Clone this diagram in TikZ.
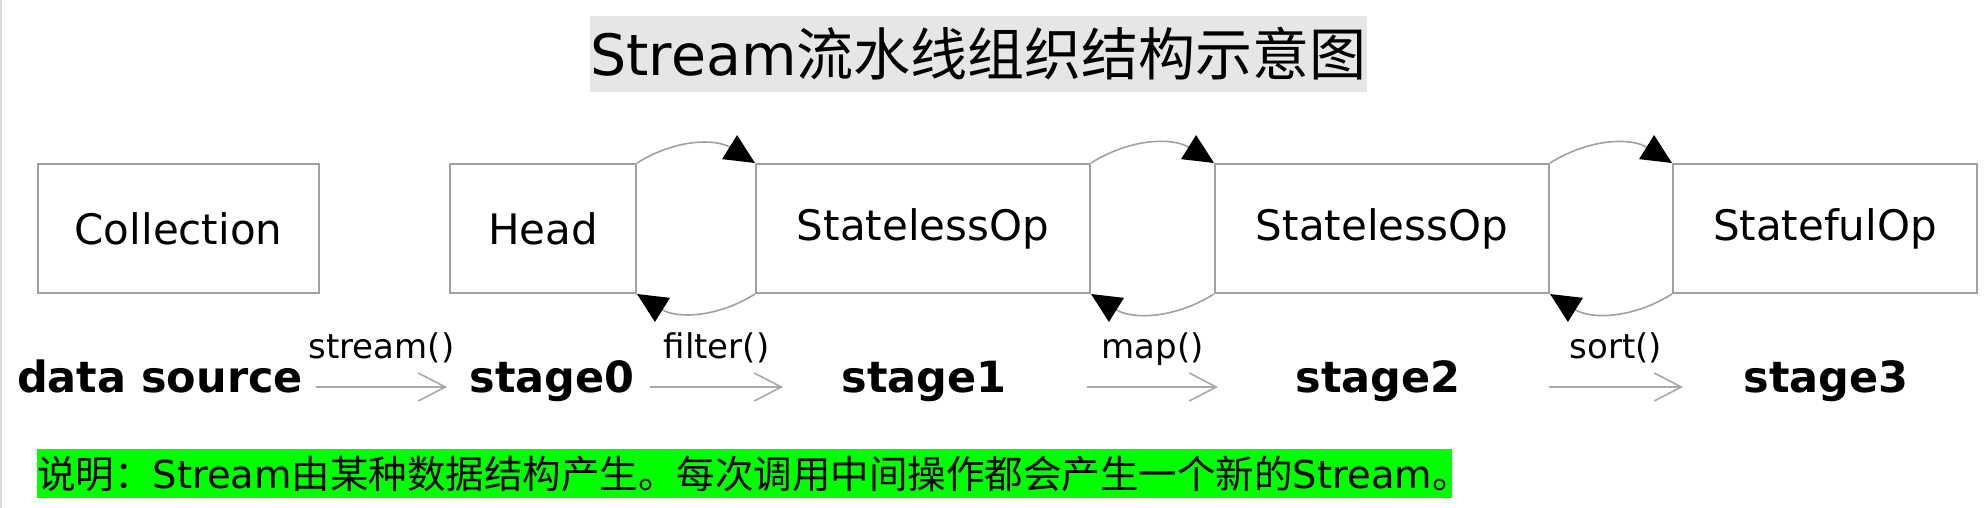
\documentclass[tikz,border=0pt]{standalone}
\usepackage{fontspec}
\setmainfont{DejaVu Sans}
\newfontfamily\cjk{Noto Sans CJK SC}
\usepackage{tikz}
\usetikzlibrary{arrows.meta}
\definecolor{Edge}{HTML}{A0A0A0}
\definecolor{Flow}{HTML}{A8A8A8}
\definecolor{Banner}{HTML}{E6E6E6}
\definecolor{Note}{HTML}{00FF00}
\definecolor{Rim}{HTML}{DADADA}

\begin{document}
\begin{tikzpicture}[x=1pt,y=-1pt,
    stagebox/.style={draw=Edge,line width=2pt,minimum height=129pt,
      inner sep=0pt,font=\fontsize{42}{50}\selectfont},
    lbl/.style={anchor=base,inner sep=0pt,
      font=\fontsize{43}{50}\selectfont\bfseries},
    call/.style={anchor=base,inner sep=0pt,font=\fontsize{34}{40}\selectfont},
    flow/.style={draw=Flow,line width=2pt,
      -{Straight Barb[length=27pt,width=28pt,line width=1.6pt]}},
    link/.style={draw=Edge,line width=1.6pt,
      -{Triangle[length=30pt,width=28pt,color=black]}}
  ]
    \useasboundingbox (0,0) rectangle (1984,508);
    \draw[Rim,line width=1.5pt] (1,0) -- (1,508);

    \node[fill=Banner,minimum width=777pt,minimum height=76pt,inner sep=0pt,
      font=\fontsize{57}{66}\selectfont] (title) at (978.5,54)
      {Stream{\cjk 流水线组织结构示意图}};

    \node[stagebox,minimum width=281pt] (coll) at (178.5,228.5) {Collection};
    \node[stagebox,minimum width=186pt] (head) at (543,228.5) {Head};
    \node[stagebox,minimum width=334pt] (op1) at (923,228.5) {StatelessOp};
    \node[stagebox,minimum width=334pt] (op2) at (1382,228.5) {StatelessOp};
    \node[stagebox,minimum width=304pt] (op3) at (1825,228.5) {StatefulOp};
    \foreach \a/\b in {head/op1,op1/op2,op2/op3}{
      \draw[link] (\a.north east) to[bend left=32] (\b.north west);
      \draw[link] (\b.south west) to[bend left=32] (\a.south east);
    }

    \node[lbl] (src) at (160,392) {data source};
    \node[lbl] (s0) at (552,392) {stage0};
    \node[lbl] (s1) at (924,392) {stage1};
    \node[lbl] (s2) at (1378,392) {stage2};
    \node[lbl] (s3) at (1826,392) {stage3};
    \foreach \n/\xa/\xb/\t in {0/316/447/stream(),1/650/783/filter(),
      2/1087/1218/map(),3/1549/1683/sort()}{
      \coordinate (f\n a) at (\xa,387);
      \coordinate (f\n b) at (\xb,387);
      \draw[flow] (f\n a) -- (f\n b);
      \node[call] (c\n) at ({(\xa+\xb)/2},358) {\t};
    }

    \node[fill=Note,anchor=west,text width=1415pt,align=left,
      minimum height=49pt,inner sep=0pt,font=\fontsize{38.5}{44}\selectfont]
      (note) at (37,473.5)
      {{\cjk 说明：}Stream{\cjk 由某种数据结构产生。每次调用中间操作都会产生一个新的}Stream{\cjk 。}};
  \end{tikzpicture}
\end{document}
